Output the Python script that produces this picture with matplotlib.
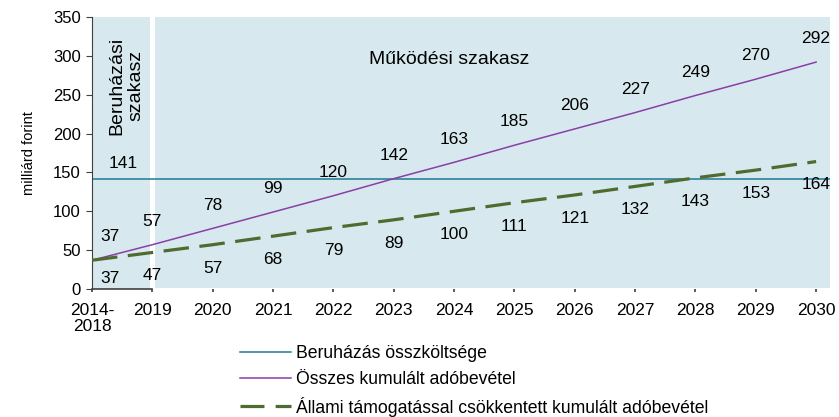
import numpy as np
import matplotlib.pyplot as plt
from matplotlib.lines import Line2D

plt.rcParams['font.family'] = ['Liberation Sans', 'DejaVu Sans']

# adatok
kategoriak = ['2014-\n2018', '2019', '2020', '2021', '2022', '2023', '2024',
              '2025', '2026', '2027', '2028', '2029', '2030']
beruhazas = 141
osszes = [37, 57, 78, 99, 120, 142, 163, 185, 206, 227, 249, 270, 292]
allami = [37, 47, 57, 68, 79, 89, 100, 111, 121, 132, 143, 153, 164]

hatter = '#d7e9ee'
c_kek = '#1f7a94'
c_lila = '#8a3fa6'
c_zold = '#4f6b30'

fig = plt.figure(figsize=(8.39, 4.17), dpi=100)
ax = fig.add_axes([92/839, 1-289/417, (830-92)/839, (289-17)/417])
x = np.arange(len(kategoriak))
xmax = 12.23
ax.set_xlim(0, xmax)
ax.set_ylim(0, 350)

# hatter szakaszok
ax.axvspan(0, 0.96, color=hatter, lw=0, zorder=0)
ax.axvspan(1.04, xmax, ymin=0.004, color=hatter, lw=0, zorder=0)

ax.axhline(beruhazas, color=c_kek, lw=1.1, zorder=2)
ax.plot(x, osszes, color=c_lila, lw=1.1, zorder=3)
ax.plot(x, allami, color=c_zold, lw=2.3, dashes=(8, 3.3), zorder=3)

# adatfeliratok
ax.text(0.52, beruhazas + 20, str(beruhazas), ha='center', va='center', fontsize=12.5)
for i, v in enumerate(osszes):
    ax.text(0.3 if i == 0 else i, v + 30, str(v), ha='center', va='center', fontsize=12.5)
for i, v in enumerate(allami):
    ax.text(0.3 if i == 0 else i, max(v - 30, 14), str(v), ha='center', va='center', fontsize=12.5)

ax.text(0.57, 262, 'Beruházási\nszakasz', rotation=90, ha='center', va='center',
        multialignment='center', fontsize=14, linespacing=1.2)
ax.text(5.92, 295, 'Működési szakasz', ha='center', va='center', fontsize=14)

# tengelyek
for s in ['top', 'right', 'bottom']:
    ax.spines[s].set_visible(False)
ax.spines['left'].set_color('#404040')
ax.plot([0, 1], [0, 0], color='#404040', lw=1.2, clip_on=False, zorder=4)
ax.set_yticks(np.arange(0, 351, 50))
ax.tick_params(axis='y', labelsize=12, length=4, color='#404040', pad=4)
ax.set_xticks(x)
ax.set_xticklabels(kategoriak, fontsize=12.5, linespacing=1.1)
ax.tick_params(axis='x', length=2, width=1.2, color='#404040', pad=8)
ax.set_ylabel('milliárd forint', fontsize=10.5, labelpad=12)

kezelok = [Line2D([], [], color=c_kek, lw=1.1),
           Line2D([], [], color=c_lila, lw=1.1),
           Line2D([], [], color=c_zold, lw=2.3, dashes=(7.5, 3.5))]
fig.legend(kezelok, ['Beruházás összköltsége', 'Összes kumulált adóbevétel',
                     'Állami támogatással csökkentett kumulált adóbevétel'],
           loc='upper left', bbox_to_anchor=(240/839, 1-345/417), frameon=False,
           fontsize=12.7, handlelength=2.9, handletextpad=0.3, labelspacing=0.5,
           borderpad=0, borderaxespad=0)

fig.savefig('out.png', dpi=100)
